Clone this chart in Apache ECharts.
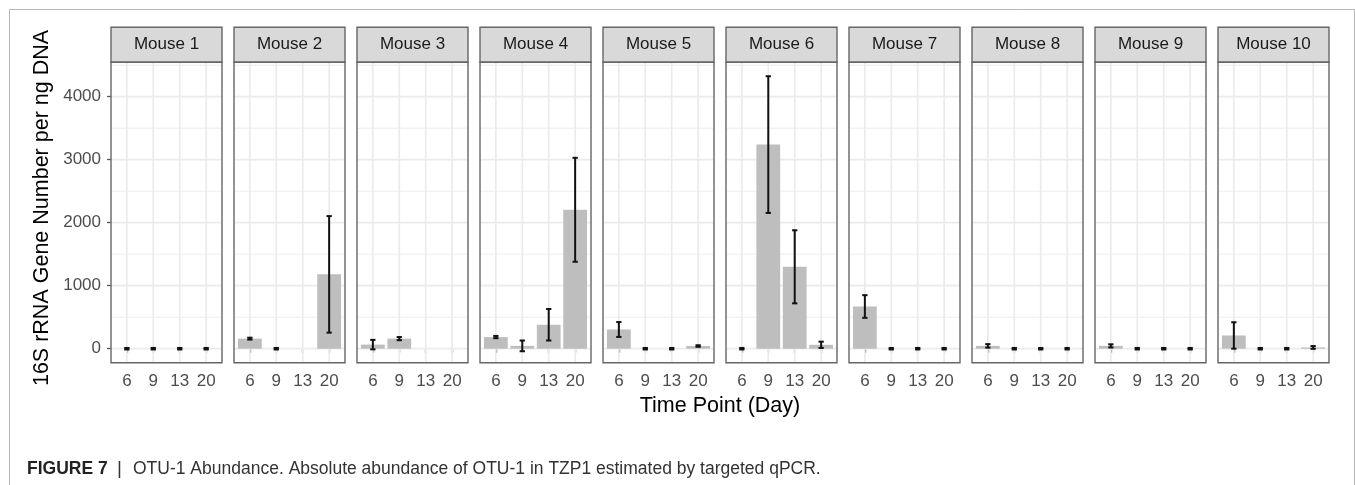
<!DOCTYPE html>
<html>
<head>
<meta charset="utf-8">
<script src="https://cdn.jsdelivr.net/npm/echarts@6/dist/echarts.min.js"></script>
<style>
  html, body { margin: 0; padding: 0; background: #fff; }
  #chart { width: 1355px; height: 485px; }
</style>
</head>
<body>
<div id="chart"></div>
<script>
// Sampling days (x categories) and facet names
const days = ['6', '9', '13', '20'];
const mice = ['Mouse 1', 'Mouse 2', 'Mouse 3', 'Mouse 4', 'Mouse 5',
              'Mouse 6', 'Mouse 7', 'Mouse 8', 'Mouse 9', 'Mouse 10'];

// Mean 16S rRNA gene copies per ng DNA, one row per mouse (null = no sample)
const abundance = [
  [0, 0, 0, 0],
  [160, 0, null, 1180],
  [65, 160, null, null],
  [185, 45, 380, 2205],
  [305, 0, 0, 43],
  [0, 3240, 1300, 62],
  [670, 0, 0, 0],
  [45, 0, 0, 0],
  [45, 0, 0, 0],
  [210, 0, 0, 20]
];

// Standard deviation for each mean above
const spread = [
  [12, 12, 12, 12],
  [15, 12, null, 925],
  [75, 25, null, null],
  [18, 85, 250, 825],
  [118, 12, 12, 12],
  [12, 1085, 580, 50],
  [180, 12, 12, 12],
  [28, 12, 12, 12],
  [25, 12, 12, 12],
  [210, 12, 12, 22]
];

const yTicks = [0, 1000, 2000, 3000, 4000];
const yGrid = [0, 500, 1000, 1500, 2000, 2500, 3000, 3500, 4000, 4500];

// ---- layout ----
const FONT = "'Liberation Sans', Arial, Helvetica, sans-serif";
const panelLeft = 111, panelPitch = 123, panelWidth = 111;
const stripTop = 27.3, panelTop = 62.3, panelHeight = 300.4;
const xMin = 0.4, xMax = 4.6, yMin = -222, yMax = 4546;
const barHalf = 0.45, capHalf = 0.1;
const borderColor = '#666';

const grids = [], xAxes = [], yAxes = [], series = [], graphics = [];

// outer figure frame
graphics.push({
  type: 'rect', z: 0, silent: true,
  shape: { x: 9.5, y: 9.5, width: 1345, height: 520 },
  style: { fill: 'none', stroke: '#b8b8b8', lineWidth: 1 }
});

mice.forEach((name, i) => {
  const left = panelLeft + i * panelPitch;
  grids.push({ left: left, top: panelTop, width: panelWidth, height: panelHeight, show: false });

  xAxes.push({
    gridIndex: i, type: 'value', min: xMin, max: xMax,
    axisLine: { show: false },
    splitLine: { show: false },
    axisTick: { show: true, customValues: [1, 2, 3, 4], length: 4,
                lineStyle: { color: '#555', width: 1.3 } },
    axisLabel: { customValues: [1, 2, 3, 4], margin: 10,
                 formatter: v => days[Math.round(v) - 1],
                 fontSize: 17, color: '#4d4d4d', fontFamily: FONT }
  });

  yAxes.push({
    gridIndex: i, type: 'value', min: yMin, max: yMax,
    axisLine: { show: false },
    splitLine: { show: false },
    axisTick: { show: i === 0, customValues: yTicks, length: 4,
                lineStyle: { color: '#555', width: 1.3 } },
    axisLabel: { show: i === 0, customValues: yTicks, margin: 10,
                 formatter: v => String(v),
                 fontSize: 17, color: '#4d4d4d', fontFamily: FONT }
  });

  // horizontal grid lines (major every 1000, minor every 500)
  series.push({
    type: 'custom', xAxisIndex: i, yAxisIndex: i, z: 1, silent: true,
    data: yGrid.map(v => [v]),
    renderItem: (params, api) => {
      const v = api.value(0);
      const a = api.coord([xMin, v]), b = api.coord([xMax, v]);
      return { type: 'line', shape: { x1: a[0], y1: a[1], x2: b[0], y2: b[1] },
               style: { stroke: '#ebebeb', lineWidth: v % 1000 === 0 ? 1.7 : 0.9 } };
    }
  });

  // vertical grid lines at each day
  series.push({
    type: 'custom', xAxisIndex: i, yAxisIndex: i, z: 1, silent: true,
    data: days.map((d, k) => [k + 1]),
    renderItem: (params, api) => {
      const x = api.value(0);
      const a = api.coord([x, yMin]), b = api.coord([x, yMax]);
      return { type: 'line', shape: { x1: a[0], y1: a[1], x2: b[0], y2: b[1] },
               style: { stroke: '#ebebeb', lineWidth: 1.7 } };
    }
  });

  // bars
  series.push({
    type: 'custom', name: name, xAxisIndex: i, yAxisIndex: i, z: 3,
    data: abundance[i].map((v, k) => [k + 1, v]).filter(d => d[1] !== null),
    renderItem: (params, api) => {
      const x = api.value(0), v = api.value(1);
      const p0 = api.coord([x - barHalf, 0]);
      const p1 = api.coord([x + barHalf, v]);
      return { type: 'rect',
               shape: { x: p0[0], y: Math.min(p0[1], p1[1]),
                        width: p1[0] - p0[0], height: Math.abs(p0[1] - p1[1]) },
               style: { fill: '#bebebe' } };
    }
  });

  // error bars (mean ± sd)
  series.push({
    type: 'custom', xAxisIndex: i, yAxisIndex: i, z: 4,
    data: abundance[i].map((v, k) => [k + 1, v, spread[i][k]]).filter(d => d[1] !== null),
    renderItem: (params, api) => {
      const x = api.value(0), m = api.value(1), e = api.value(2);
      const hi = api.coord([x, m + e]), lo = api.coord([x, m - e]);
      const l = api.coord([x - capHalf, m])[0], r = api.coord([x + capHalf, m])[0];
      const st = { stroke: '#111', lineWidth: 2 };
      return { type: 'group', children: [
        { type: 'line', shape: { x1: hi[0], y1: hi[1], x2: lo[0], y2: lo[1] }, style: st },
        { type: 'line', shape: { x1: l, y1: hi[1], x2: r, y2: hi[1] }, style: st },
        { type: 'line', shape: { x1: l, y1: lo[1], x2: r, y2: lo[1] }, style: st }
      ] };
    }
  });

  // panel frame
  series.push({
    type: 'custom', xAxisIndex: i, yAxisIndex: i, z: 6, silent: true,
    data: [[xMin, yMin]],
    renderItem: (params, api) => {
      const a = api.coord([xMin, yMax]), b = api.coord([xMax, yMin]);
      return { type: 'rect', shape: { x: a[0], y: a[1], width: b[0] - a[0], height: b[1] - a[1] },
               style: { fill: 'none', stroke: borderColor, lineWidth: 1.4 } };
    }
  });

  // facet strip
  graphics.push({
    type: 'rect', z: 5, silent: true,
    shape: { x: left, y: stripTop, width: panelWidth, height: panelTop - stripTop },
    style: { fill: '#d9d9d9', stroke: borderColor, lineWidth: 1.4 }
  });
  graphics.push({
    type: 'text', z: 6, silent: true,
    x: left + panelWidth / 2, y: (stripTop + panelTop) / 2,
    style: { text: name, fontSize: 17, fontFamily: FONT, fill: '#1a1a1a',
             align: 'center', verticalAlign: 'middle' }
  });
});

// axis titles
graphics.push({
  type: 'text', silent: true, x: 42, y: 208, rotation: Math.PI / 2,
  style: { text: '16S rRNA Gene Number per ng DNA', fontSize: 21.5, fontFamily: FONT,
           fill: '#000', align: 'center', verticalAlign: 'middle' }
});
graphics.push({
  type: 'text', silent: true,
  x: panelLeft + (panelPitch * (mice.length - 1) + panelWidth) / 2, y: 406,
  style: { text: 'Time Point (Day)', fontSize: 21.5, fontFamily: FONT,
           fill: '#000', align: 'center', verticalAlign: 'middle' }
});

// figure caption
graphics.push({
  type: 'text', silent: true, x: 27, y: 469,
  style: { text: 'FIGURE 7', fontSize: 17.5, fontWeight: 'bold', fontFamily: FONT,
           fill: '#222', align: 'left', verticalAlign: 'middle' }
});
graphics.push({
  type: 'text', silent: true, x: 117, y: 469,
  style: { text: '|', fontSize: 19, fontFamily: FONT,
           fill: '#333', align: 'left', verticalAlign: 'middle' }
});
graphics.push({
  type: 'text', silent: true, x: 133, y: 469,
  style: { text: 'OTU-1 Abundance. Absolute abundance of OTU-1 in TZP1 estimated by targeted qPCR.',
           fontSize: 17.5, fontFamily: FONT, fill: '#333', align: 'left', verticalAlign: 'middle' }
});

const chart = echarts.init(document.getElementById('chart'), null, { renderer: 'canvas' });
chart.setOption({
  animation: false,
  backgroundColor: '#fff',
  grid: grids,
  xAxis: xAxes,
  yAxis: yAxes,
  series: series,
  graphic: graphics
});
</script>
</body>
</html>
